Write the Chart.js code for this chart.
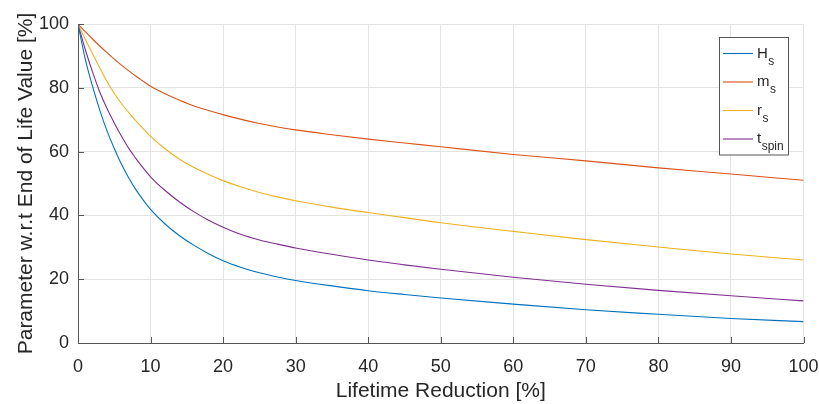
<!DOCTYPE html>
<html>
<head>
<meta charset="utf-8">
<script src="https://cdn.jsdelivr.net/npm/chart.js@4/dist/chart.umd.min.js"></script>
<style>
  html, body { margin: 0; padding: 0; background: #fff; }
  #wrap { width: 819px; height: 404px; position: relative; }
</style>
</head>
<body>
<div id="wrap"><canvas id="c" width="819" height="404"></canvas></div>
<script>
// Lifetime reduction [%]
const lifetimeReduction = [0, 1, 2, 3, 4, 5, 6, 7, 8, 9, 10, 12, 14, 16, 18, 20, 22.5, 25, 27.5, 30, 35, 40, 45, 50, 60, 70, 80, 90, 100];

// Parameter value relative to end-of-life value [%]
const H_s    = [100, 89, 80.5, 73, 66.5, 61, 56, 51.7, 48, 44.8, 41.9, 37.3, 33.6, 30.6, 28.0, 25.8, 23.7, 22.0, 20.7, 19.6, 17.9, 16.4, 15.2, 14.1, 12.2, 10.4, 9.0, 7.7, 6.7];
const m_s    = [100, 97.6, 95.3, 93.1, 91.0, 89.0, 87.1, 85.3, 83.6, 82.0, 80.5, 78.1, 76.1, 74.3, 72.9, 71.6, 70.1, 68.8, 67.7, 66.8, 65.3, 63.9, 62.7, 61.5, 59.1, 57.1, 54.9, 53.0, 51.0];
const r_s    = [100, 95.2, 90.7, 86.3, 82, 78.2, 75, 72.2, 69.6, 67.1, 64.8, 60.9, 57.6, 55.0, 52.8, 50.9, 48.9, 47.2, 45.8, 44.6, 42.6, 40.9, 39.3, 37.7, 35.0, 32.4, 30.1, 27.9, 26.0];
const t_spin = [100, 92, 85, 78.7, 73.5, 69, 64.8, 61.0, 57.8, 54.8, 52.1, 47.8, 44.2, 41.1, 38.5, 36.3, 34.0, 32.3, 31.0, 29.8, 27.8, 26.0, 24.5, 23.1, 20.6, 18.4, 16.5, 14.8, 13.2];

// Legend names: main symbol and subscript
const seriesNames = [["H", "s"], ["m", "s"], ["r", "s"], ["t", "spin"]];
const seriesValues = [H_s, m_s, r_s, t_spin];
const seriesColors = ["#0072BD", "#D95319", "#EDB120", "#7E2F8E"];

const xTicks = [0, 10, 20, 30, 40, 50, 60, 70, 80, 90, 100];
const yTicks = [0, 20, 40, 60, 80, 100];

const AXIS_COLOR = "#262626";
const GRID_COLOR = "#e3e3e3";
const FONT = "'Liberation Sans', Arial, Helvetica, sans-serif";

const datasets = seriesValues.map((vals, i) => ({
  label: seriesNames[i][0] + "_" + seriesNames[i][1],
  data: lifetimeReduction.map((x, k) => ({ x: x, y: vals[k] })),
  borderColor: seriesColors[i],
  backgroundColor: seriesColors[i],
  borderWidth: 1.1,
  pointRadius: 0,
  cubicInterpolationMode: "monotone",
  fill: false
}));

// Inward tick marks on the left and bottom axes
const inwardTicks = {
  id: "inwardTicks",
  afterDatasetsDraw(chart) {
    const { ctx, chartArea: a, scales } = chart;
    ctx.save();
    ctx.strokeStyle = "#555";
    ctx.lineWidth = 1;
    ctx.beginPath();
    xTicks.forEach(v => {
      const px = Math.round(scales.x.getPixelForValue(v)) + 0.5;
      ctx.moveTo(px, a.bottom);
      ctx.lineTo(px, a.bottom - 6);
    });
    yTicks.forEach(v => {
      const py = Math.round(scales.y.getPixelForValue(v)) + 0.5;
      ctx.moveTo(a.left, py);
      ctx.lineTo(a.left + 6, py);
    });
    ctx.stroke();
    ctx.restore();
  }
};

// Legend box with subscripted series names
const subLegend = {
  id: "subLegend",
  afterDraw(chart) {
    const { ctx } = chart;
    const x0 = 719.5, y0 = 37.5, w = 69, h = 117.5;
    ctx.save();
    ctx.fillStyle = "#fff";
    ctx.fillRect(x0, y0, w, h);
    ctx.strokeStyle = "#555";
    ctx.lineWidth = 1;
    ctx.strokeRect(x0, y0, w, h);
    const rowY = [53.5, 82, 110.5, 139];
    seriesNames.forEach((nm, i) => {
      const y = rowY[i];
      ctx.strokeStyle = seriesColors[i];
      ctx.lineWidth = 1.1;
      ctx.beginPath();
      ctx.moveTo(723, y);
      ctx.lineTo(753, y);
      ctx.stroke();
      ctx.fillStyle = AXIS_COLOR;
      ctx.textBaseline = "alphabetic";
      ctx.textAlign = "left";
      ctx.font = "15px " + FONT;
      ctx.fillText(nm[0], 757, y + 4);
      const mw = ctx.measureText(nm[0]).width;
      ctx.font = "12px " + FONT;
      ctx.fillText(nm[1], 757 + mw + 0.5, y + 11);
    });
    ctx.restore();
  }
};

new Chart(document.getElementById("c"), {
  type: "line",
  data: { datasets: datasets },
  plugins: [inwardTicks, subLegend],
  options: {
    responsive: false,
    animation: false,
    layout: { padding: { left: 0, right: 15.5, top: 24, bottom: 0 } },
    plugins: {
      legend: { display: false },
      tooltip: { enabled: false }
    },
    scales: {
      x: {
        type: "linear",
        min: 0,
        max: 100,
        afterBuildTicks(scale) { scale.ticks = xTicks.map(v => ({ value: v })); },
        afterFit(scale) { scale.height = 61; scale.paddingLeft = 0; scale.paddingRight = 0; },
        grid: { color: GRID_COLOR, lineWidth: 1, drawTicks: false },
        border: { display: true, color: "#555", width: 1 },
        ticks: {
          color: AXIS_COLOR,
          padding: 13,
          maxRotation: 0,
          font: { family: FONT, size: 18 }
        },
        title: {
          display: true,
          text: "Lifetime Reduction [%]",
          color: AXIS_COLOR,
          font: { family: FONT, size: 21 },
          padding: { top: 2, bottom: 0 }
        }
      },
      y: {
        type: "linear",
        min: 0,
        max: 100,
        afterBuildTicks(scale) { scale.ticks = yTicks.map(v => ({ value: v })); },
        afterFit(scale) { scale.width = 78; scale.paddingTop = 0; scale.paddingBottom = 0; },
        grid: { color: GRID_COLOR, lineWidth: 1, drawTicks: false },
        border: { display: true, color: "#555", width: 1 },
        ticks: {
          color: AXIS_COLOR,
          padding: 9,
          font: { family: FONT, size: 18 }
        },
        title: {
          display: true,
          text: "Parameter w.r.t End of Life Value [%]",
          color: AXIS_COLOR,
          font: { family: FONT, size: 21 },
          padding: { top: 14, bottom: 0 }
        }
      }
    }
  }
});
</script>
</body>
</html>
